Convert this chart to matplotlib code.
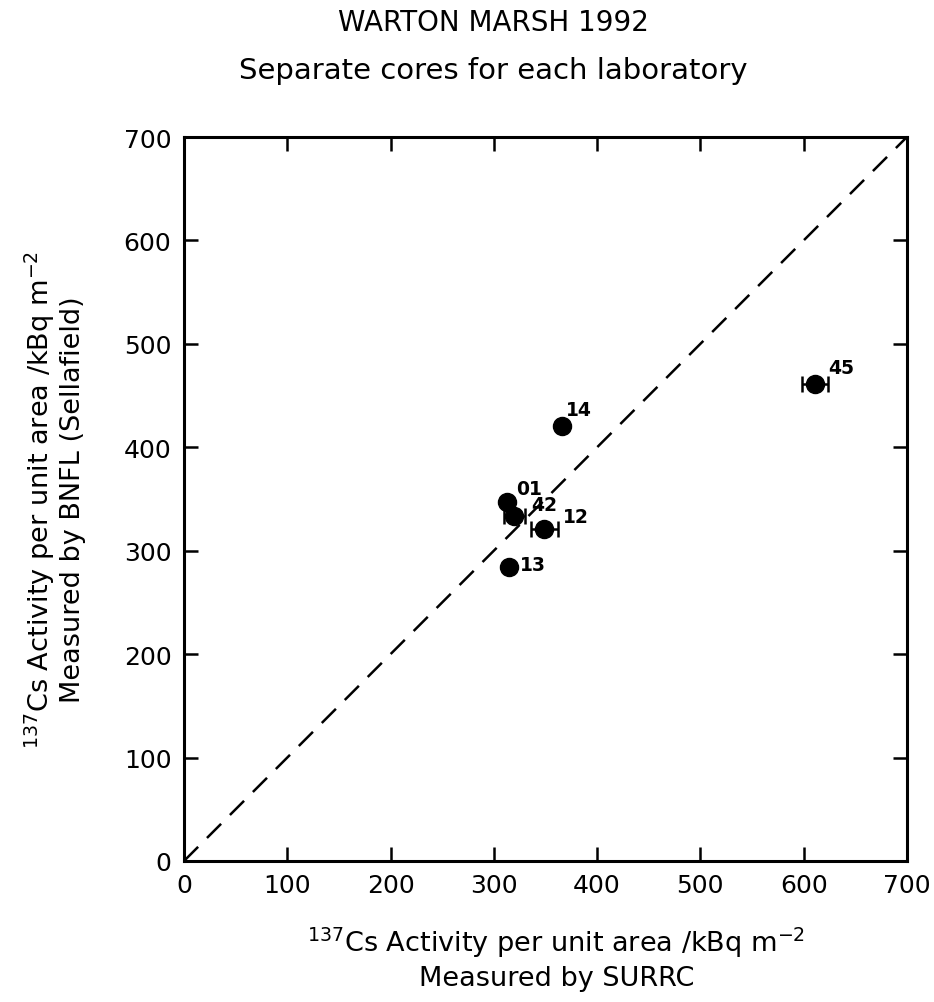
import matplotlib
matplotlib.use("Agg")
import matplotlib.pyplot as plt

labels = ["01", "42", "12", "13", "14", "45"]
surrc = [313, 320, 349, 315, 366, 611]
bnfl = [347, 334, 321, 284, 421, 461]
surrc_err = [0, 10.5, 13, 0, 0, 12.5]

# label offsets (points) relative to each marker
label_dx = [6.5, 12, 13, 8, 3, 9.5]
label_dy = [3, 1, 2, -5, 5, 5]

ticks = [0, 100, 200, 300, 400, 500, 600, 700]

plt.rcParams['font.family'] = ['DejaVu Sans']

fig = plt.figure(figsize=(9.34, 10.03), dpi=100)
ax = fig.add_axes([0.197, 0.1406, 0.774, 0.7218])

ax.plot([0, 700], [0, 700], linestyle=(0, (8, 5)), color='black', lw=1.8, zorder=1)

for x, y, e in zip(surrc, bnfl, surrc_err):
    if e > 0:
        ax.errorbar([x], [y], xerr=[e], fmt='none', ecolor='black', elinewidth=1.8,
                    capsize=6, capthick=1.8, zorder=2)
ax.plot(surrc, bnfl, 'o', color='black', markersize=13, zorder=3, linestyle='none')

for lab, x, y, dx, dy in zip(labels, surrc, bnfl, label_dx, label_dy):
    ax.annotate(lab, (x, y), xytext=(dx, dy), textcoords='offset points',
                fontsize=13.5, fontweight='bold', ha='left', va='bottom')

ax.set_xlim(0, 700)
ax.set_ylim(0, 700)
ax.set_xticks(ticks)
ax.set_yticks(ticks)
ax.tick_params(direction='in', length=10, width=1.8, top=True, right=True,
               labelsize=18, pad=9)
for s in ax.spines.values():
    s.set_linewidth(2.2)

ax.set_xlabel('$^{137}$Cs Activity per unit area /kBq m$^{-2}$\nMeasured by SURRC',
              fontsize=19.5, linespacing=1.3)
ax.xaxis.set_label_coords(0.515, -0.088)
ax.set_ylabel('$^{137}$Cs Activity per unit area /kBq m$^{-2}$\nMeasured by BNFL (Sellafield)',
              fontsize=19.5, linespacing=1.15)
ax.yaxis.set_label_coords(-0.135, 0.5)

fig.text(0.528, 0.977, 'WARTON MARSH 1992', ha='center', va='center', fontsize=20)
fig.text(0.528, 0.929, 'Separate cores for each laboratory', ha='center', va='center', fontsize=21)

fig.savefig('out.png', dpi=100)
